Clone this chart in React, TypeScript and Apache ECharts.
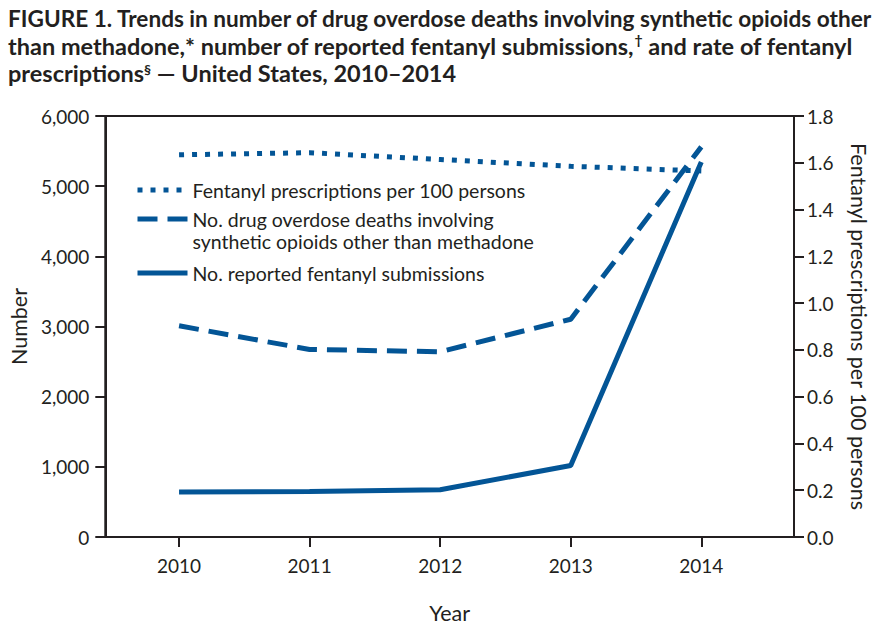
import React, { useEffect, useRef } from "react";
import * as echarts from "echarts";

const years = [2010, 2011, 2012, 2013, 2014];
const prescriptionsPer100 = [1.634, 1.643, 1.614, 1.585, 1.565];
const overdoseDeaths = [3010, 2673, 2640, 3104, 5560];
const fentanylSubmissions = [640, 650, 673, 1020, 5346];

const leftTicks = [0, 1000, 2000, 3000, 4000, 5000, 6000];
const rightTicks = [0, 0.2, 0.4, 0.6, 0.8, 1.0, 1.2, 1.4, 1.6, 1.8];

const seriesNames = [
  "Fentanyl prescriptions per 100 persons",
  "No. drug overdose deaths involving\nsynthetic opioids other than methadone",
  "No. reported fentanyl submissions",
];

const titleLines = [
  "{a|FIGURE 1. Trends in number of drug overdose deaths involving synthetic opioids other}",
  "{b|than methadone,* number of reported fentanyl submissions,}{sup|†}{b| and rate of fentanyl}",
  "{b|prescriptions}{sup2|§}{b| — United States, 2010–2014}",
];

const BLUE = "#035596";
const INK = "#231f20";
const FONT = "Lato, 'Open Sans', sans-serif";

export default function App() {
  const ref = useRef<HTMLDivElement>(null);
  useEffect(() => {
    if (!ref.current) return;
    const chart = echarts.init(ref.current, null, { renderer: "svg" });
    const pair = (vals: number[]) => years.map((y, i) => [y, vals[i]]);
    const legendBase = {
      orient: "vertical" as const,
      left: 135,
      padding: 0,
      itemWidth: 50,
      itemHeight: 14,
      itemGap: 0,
      itemStyle: { opacity: 0, borderWidth: 0 },
      lineStyle: { width: 5, cap: "butt" },
      textStyle: { color: INK, fontSize: 19.5, fontFamily: FONT, lineHeight: 22 },
    };
    const tf = { fontFamily: "Lato, sans-serif", fontWeight: "bold" as const, color: INK, lineHeight: 27 };
    chart.setOption({
      animation: false,
      backgroundColor: "#ffffff",
      textStyle: { fontFamily: FONT, color: INK },
      title: {
        left: 8,
        top: 5,
        padding: 0,
        text: titleLines.join("\n"),
        textStyle: {
          ...tf,
          fontSize: 23,
          rich: {
            a: { ...tf, fontSize: 22.6 },
            b: { ...tf, fontSize: 23.5 },
            sup: { ...tf, fontSize: 14, verticalAlign: "top" },
            sup2: { ...tf, fontSize: 14, lineHeight: 21, verticalAlign: "top", padding: [3, 0, 0, 0] },
          },
        },
      },
      legend: [
        { ...legendBase, top: 179, data: [seriesNames[0]] },
        { ...legendBase, top: 186, data: [seriesNames[1]], formatter: (n: string) => "\n" + n },
        { ...legendBase, top: 262, data: [seriesNames[2]] },
      ],
      grid: {
        left: 103,
        right: 88,
        top: 116,
        bottom: 90,
        show: true,
        borderColor: INK,
        borderWidth: 2,
        backgroundColor: "transparent",
      },
      xAxis: {
        type: "value",
        min: 2009.435,
        max: 2014.71,
        name: "Year",
        nameLocation: "middle",
        nameGap: 65,
        nameTextStyle: { fontSize: 21.5, color: INK, fontFamily: FONT },
        axisLine: { show: true, lineStyle: { color: INK, width: 2 } },
        axisTick: { show: true, length: 10, lineStyle: { color: INK, width: 2 }, customValues: years },
        axisLabel: {
          customValues: years,
          formatter: (v: number) => String(Math.round(v)),
          fontSize: 19,
          color: INK,
          margin: 19,
          fontFamily: FONT,
        },
        splitLine: { show: false },
      },
      yAxis: [
        {
          type: "value",
          min: 0,
          max: 6000,
          interval: 1000,
          position: "left",
          name: "Number",
          nameLocation: "middle",
          nameRotate: 90,
          nameGap: 73,
          nameTextStyle: { fontSize: 21.5, color: INK, fontFamily: FONT },
          axisLine: { show: true, lineStyle: { color: INK, width: 2 } },
          axisTick: { show: true, length: 10, lineStyle: { color: INK, width: 2 }, customValues: leftTicks },
          axisLabel: {
            fontSize: 19,
            color: INK,
            margin: 16,
            fontFamily: FONT,
            formatter: (v: number) => v.toLocaleString("en-US"),
          },
          splitLine: { show: false },
        },
        {
          type: "value",
          min: 0,
          max: 1.8,
          interval: 0.2,
          position: "right",
          name: "Fentanyl prescriptions per 100 persons",
          nameLocation: "middle",
          nameRotate: -90,
          nameGap: 54,
          nameTextStyle: { fontSize: 21.5, color: INK, fontFamily: FONT },
          axisLine: { show: true, lineStyle: { color: INK, width: 2 } },
          axisTick: { show: true, length: 10, lineStyle: { color: INK, width: 2 }, customValues: rightTicks },
          axisLabel: {
            fontSize: 19,
            color: INK,
            margin: 13,
            fontFamily: FONT,
            customValues: rightTicks,
            formatter: (v: number) => v.toFixed(1),
          },
          splitLine: { show: false },
        },
      ],
      series: [
        {
          name: seriesNames[0],
          type: "line",
          yAxisIndex: 1,
          data: pair(prescriptionsPer100),
          symbol: "none",
          lineStyle: { color: BLUE, width: 5, type: [5, 8], cap: "butt" },
          itemStyle: { color: BLUE },
        },
        {
          name: seriesNames[1],
          type: "line",
          yAxisIndex: 0,
          data: pair(overdoseDeaths),
          symbol: "none",
          lineStyle: { color: BLUE, width: 5, type: [20, 10], cap: "butt" },
          itemStyle: { color: BLUE },
        },
        {
          name: seriesNames[2],
          type: "line",
          yAxisIndex: 0,
          data: pair(fentanylSubmissions),
          symbol: "none",
          lineStyle: { color: BLUE, width: 5, type: "solid" },
          itemStyle: { color: BLUE },
        },
      ],
    });
    return () => chart.dispose();
  }, []);
  return <div ref={ref} style={{ width: 882, height: 629, position: "absolute", left: 0, top: 0 }} />;
}
